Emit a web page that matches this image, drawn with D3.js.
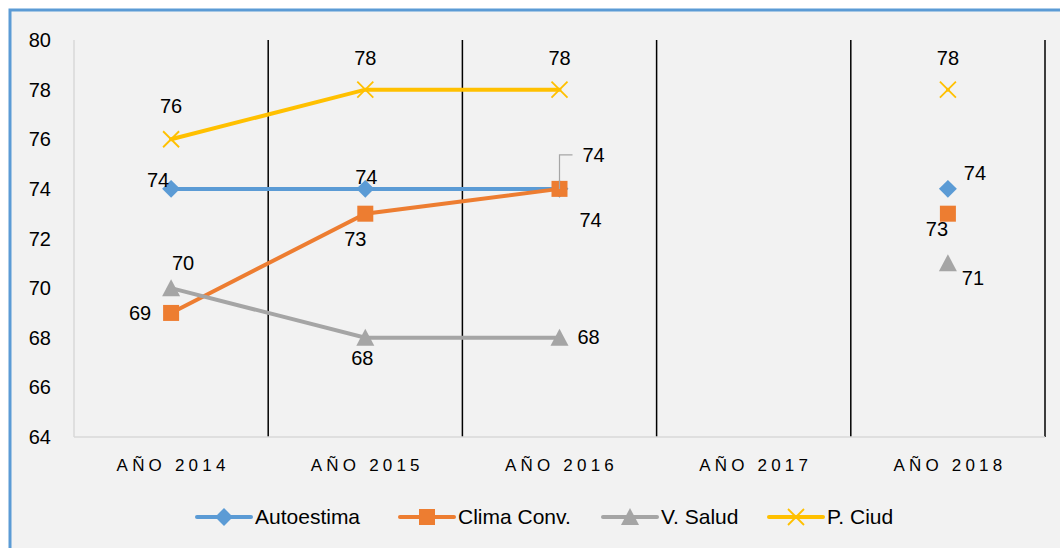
<!DOCTYPE html>
<html>
<head>
<meta charset="utf-8">
<script src="https://cdn.jsdelivr.net/npm/d3@7"></script>
<style>
  body { margin: 0; background: #fff; }
  text { font-family: "Liberation Sans", Arial, sans-serif; fill: #000; }
</style>
</head>
<body>
<script>
// categorias y series
var years = ["AÑO 2014", "AÑO 2015", "AÑO 2016", "AÑO 2017", "AÑO 2018"];
var autoestima = [74, 74, 74, null, 74];
var climaConv = [69, 73, 74, null, 73];
var vSalud = [70, 68, 68, null, 71];
var pCiud = [76, 78, 78, null, 78];
var yTicks = [64, 66, 68, 70, 72, 74, 76, 78, 80];

var series = [
  { name: "Autoestima", values: autoestima, color: "#5b9bd5", marker: "diamond" },
  { name: "Clima Conv.", values: climaConv, color: "#ed7d31", marker: "square" },
  { name: "V. Salud", values: vSalud, color: "#a5a5a5", marker: "triangle" },
  { name: "P. Ciud", values: pCiud, color: "#ffc000", marker: "cross" }
];

// desplazamiento de las etiquetas (dx, dy) respecto al punto
var labelPos = [
  [[-13, -9], [1, -12], null, null, [27, -16]],
  [[-31, 0], [-10, 25], [31, 31], null, [-11, 15]],
  [[12, -25], [-3, 20], [29, -1], null, [25, 15]],
  [[0, -33], [0, -32], [0, -32], null, [0, -32]]
];

var W = 1060, H = 548;
var margin = { left: 74, right: 1045, top: 40, bottom: 437 };

var svg = d3.select("body").append("svg").attr("width", W).attr("height", H);

svg.append("rect").attr("x", 10).attr("y", 10).attr("width", 1080).attr("height", 560)
  .attr("fill", "#f2f2f2").attr("stroke", "#5b9bd5").attr("stroke-width", 3);

var x = d3.scaleBand().domain(years).range([margin.left, margin.right]);
var y = d3.scaleLinear().domain([64, 80]).range([margin.bottom, margin.top]);

// lineas verticales de separacion
svg.selectAll(".vgrid").data(years).enter().append("line")
  .attr("x1", function(d) { return x(d) + x.bandwidth(); })
  .attr("x2", function(d) { return x(d) + x.bandwidth(); })
  .attr("y1", margin.top).attr("y2", margin.bottom)
  .attr("stroke", "#000").attr("stroke-width", 1.5);

// ejes
svg.append("line").attr("x1", margin.left).attr("x2", margin.left)
  .attr("y1", margin.top).attr("y2", margin.bottom).attr("stroke", "#d9d9d9").attr("stroke-width", 1.5);
svg.append("line").attr("x1", margin.left).attr("x2", margin.right)
  .attr("y1", margin.bottom).attr("y2", margin.bottom).attr("stroke", "#d9d9d9").attr("stroke-width", 1.5);

svg.selectAll(".ytick").data(yTicks).enter().append("text")
  .attr("x", 51).attr("y", function(d) { return y(d); }).attr("dy", "0.35em")
  .attr("text-anchor", "end").style("font-size", "20px")
  .text(function(d) { return d; });

svg.selectAll(".xtick").data(years).enter().append("text")
  .attr("x", function(d) { return x(d) + x.bandwidth() / 2 + 2; }).attr("y", 471)
  .attr("text-anchor", "middle").style("font-size", "17px").style("letter-spacing", "4.2px")
  .text(function(d) { return d; });

var cx = function(i) { return x(years[i]) + x.bandwidth() / 2; };

var line = d3.line()
  .defined(function(d) { return d != null; })
  .x(function(d, i) { return cx(i); })
  .y(function(d) { return y(d); });

function drawMarker(g, type, color, px, py) {
  if (type === "diamond") {
    g.append("path").attr("d", d3.symbol().type(d3.symbolSquare).size(160)())
      .attr("transform", "translate(" + px + "," + py + ") rotate(45)").attr("fill", color);
  } else if (type === "square") {
    g.append("rect").attr("x", px - 8).attr("y", py - 8).attr("width", 16).attr("height", 16).attr("fill", color);
  } else if (type === "triangle") {
    g.append("path").attr("d", "M" + px + "," + (py - 9) + "L" + (px + 9) + "," + (py + 8) + "L" + (px - 9) + "," + (py + 8) + "Z")
      .attr("fill", color);
  } else {
    g.append("path").attr("d", "M" + (px - 8) + "," + (py - 8) + "L" + (px + 8) + "," + (py + 8) + "M" + (px + 8) + "," + (py - 8) + "L" + (px - 8) + "," + (py + 8))
      .attr("stroke", color).attr("stroke-width", 1.8).attr("fill", "none");
  }
}

series.forEach(function(s, si) {
  var g = svg.append("g");
  g.append("path").datum(s.values).attr("d", line)
    .attr("fill", "none").attr("stroke", s.color).attr("stroke-width", 4).attr("stroke-linecap", "round");
  s.values.forEach(function(v, i) {
    if (v == null) return;
    drawMarker(g, s.marker, s.color, cx(i), y(v));
  });
});

// etiquetas de datos
series.forEach(function(s, si) {
  s.values.forEach(function(v, i) {
    if (v == null) return;
    var p = labelPos[si][i];
    if (p == null) return;
    svg.append("text").attr("x", cx(i) + p[0]).attr("y", y(v) + p[1]).attr("dy", "0.35em")
      .attr("text-anchor", "middle").style("font-size", "20px").text(v);
  });
});

// etiqueta con linea guia (Autoestima 2016)
var lx = cx(2), ly = y(autoestima[2]);
svg.append("path").attr("d", "M" + lx + "," + ly + "V" + (ly - 34) + "H" + (lx + 13))
  .attr("fill", "none").attr("stroke", "#a6a6a6").attr("stroke-width", 1.2);
svg.append("text").attr("x", lx + 34).attr("y", ly - 34).attr("dy", "0.35em")
  .attr("text-anchor", "middle").style("font-size", "20px").text(autoestima[2]);

// leyenda
var legendX = [197, 400, 603, 769];
var legend = svg.selectAll(".legend").data(series).enter().append("g")
  .attr("transform", function(d, i) { return "translate(" + legendX[i] + ",517)"; });
legend.each(function(d) {
  var g = d3.select(this);
  g.append("line").attr("x1", 0).attr("x2", 54).attr("y1", 0).attr("y2", 0)
    .attr("stroke", d.color).attr("stroke-width", 4).attr("stroke-linecap", "round");
  drawMarker(g, d.marker, d.color, 27, 0);
  g.append("text").attr("x", 58).attr("y", 0).attr("dy", "0.35em").style("font-size", "21px").text(d.name);
});
</script>
</body>
</html>
